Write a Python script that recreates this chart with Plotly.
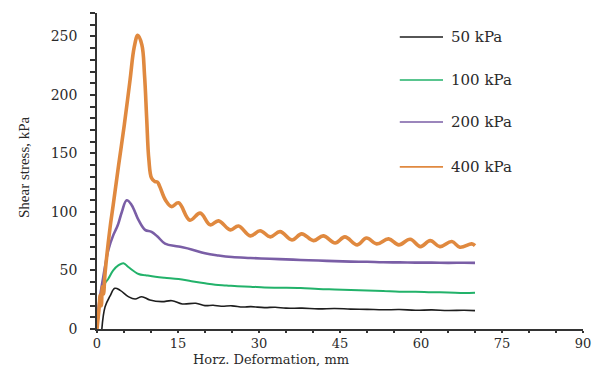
import plotly.graph_objects as go

# ---------------- data ----------------
legend_labels = ["50 kPa", "100 kPa", "200 kPa", "400 kPa"]

x_50 = [0.9, 1.5, 2.4, 3.3, 4.3, 5.8, 7.05, 8.3, 9.8, 12.0, 13.9, 15.8, 18.3, 20, 21.5, 23, 25, 27,
        28.5, 31, 33, 35, 38, 41, 44, 47, 50, 53, 56, 59, 62, 65, 68, 70]
y_50 = [0, 19, 28, 34.8, 33, 27.7, 25.6, 27.6, 24.8, 23.4, 24.2, 21.4, 22, 20, 20.3, 19.5, 19.8,
        18.8, 19.1, 18.3, 18.6, 17.8, 17.8, 17.2, 17.5, 17, 16.8, 16.4, 16.6, 16, 16.3, 15.8, 16, 15.7]

x_100 = [0, 0.5, 1.0, 1.5, 2.1, 3.0, 4.0, 4.9, 5.8, 7.7, 9.0, 10.8, 12.5, 15.1, 17.5, 20,
         21.9, 24, 26, 28.4, 31, 34, 37.7, 41, 44, 47, 50, 53, 56, 59, 62, 65, 68, 70]
y_100 = [0, 22, 33, 39, 43, 50, 54.5, 56.2, 53, 47, 46, 44.7, 43.8, 42.7, 40.8, 39,
         37.8, 37.2, 36.5, 36.2, 35.5, 35.3, 35, 34.2, 33.8, 33.4, 33, 32.5, 31.9, 31.8, 31.4,
         31.2, 30.8, 31]

x_200 = [0, 0.56, 1.17, 2.1, 3.0, 3.6, 3.95, 4.6, 5.5, 6.4, 7.7, 8.9, 10.1, 11.2, 12.6, 15.1,
         17.5, 20, 22.5, 25, 28.4, 32, 35, 37.7, 41, 44, 47, 50, 53, 56, 59, 62, 65, 68, 70]
y_200 = [8, 27.6, 44.7, 67.6, 80, 86, 90, 100, 110, 106, 93, 84.7, 83, 79, 73, 70.5,
         68, 64.7, 62.8, 61.5, 60.7, 60, 59.5, 59, 58.5, 58, 57.6, 57.4, 57, 56.9, 56.7, 56.7,
         56.5, 56.6, 56.5]

x_400 = [0, 0.35, 0.6, 0.8, 1.0, 1.2, 1.5, 2.4, 3.0, 4.0, 5.06, 6.1, 6.9, 7.55, 8.3,
         8.8, 9.2, 9.6, 10.1, 10.7, 11.2, 11.6, 12.7, 13.8, 15.1, 17.2, 19.1, 20.97, 22.5, 24.7,
         26.2, 28.4, 30.2, 32.1, 33.9, 36.1, 37.9, 40.1, 41.9, 44.1, 45.9, 48.2, 49.9, 51.8, 54,
         55.9, 58, 59.9, 61.7, 63.5, 65.7, 67.2, 69.4, 70]
y_400 = [0, 16, 29, 20, 36, 30, 48, 86, 106, 140, 174.5, 212, 241, 251, 243,
         217, 180, 145, 129, 126, 125.5, 122, 110, 104.6, 107.8, 93, 99, 89, 92.4, 84.7,
         88, 79.6, 84, 78.7, 83.2, 76.1, 81.3, 75.5, 79.6, 73.5, 78.7, 71.9, 77.8, 72.7, 77,
         71.9, 76.7, 70.4, 75.5, 70.4, 74.7, 69.9, 72.7, 71.3]

series_x = [x_50, x_100, x_200, x_400]
series_y = [y_50, y_100, y_200, y_400]

x_tick_vals = [0, 15, 30, 45, 60, 75, 90]
y_tick_vals = [0, 50, 100, 150, 200, 250]

# ---------------- style ----------------
colors = ["#1e1e1e", "#22b26a", "#7a5ea6", "#e0893f"]
widths = [1.6, 2.0, 2.6, 3.6]
serif = "DejaVu Serif"
text_color = "#2a2a2a"

fig = go.Figure()
for xs, ys, c, w, name in zip(series_x, series_y, colors, widths, legend_labels):
    fig.add_trace(go.Scatter(x=xs, y=ys, mode="lines", name=name,
                             line=dict(color=c, width=w, shape="spline", smoothing=1.1),
                             showlegend=False))

# custom legend (layout elements in paper coordinates)
legend_rows = [0.924, 0.788, 0.655, 0.513]
for name, c, yy in zip(legend_labels, colors, legend_rows):
    fig.add_shape(type="line", xref="paper", yref="paper", x0=0.623, x1=0.712, y0=yy, y1=yy,
                  line=dict(color=c, width=1.6))
    fig.add_annotation(xref="paper", yref="paper", x=0.724, y=yy, text=name, showarrow=False,
                       xanchor="left", yanchor="middle",
                       font=dict(family=serif, size=15, color=text_color))

# axis titles
fig.add_annotation(xref="paper", yref="paper", x=0.358, y=-0.1266, text="Horz. Deformation, mm",
                   showarrow=False, xanchor="center", yanchor="bottom",
                   font=dict(family=serif, size=13, color=text_color))
fig.add_annotation(xref="paper", yref="paper", x=-0.150, y=0.513, text="Shear stress, kPa",
                   showarrow=False, xanchor="center", yanchor="middle", textangle=-90,
                   font=dict(family="Liberation Serif", size=15, color=text_color))

fig.update_layout(
    width=595, height=369,
    margin=dict(l=97, r=12, t=13, b=40),
    plot_bgcolor="white", paper_bgcolor="white",
    font=dict(family=serif, size=13, color=text_color),
)
fig.update_xaxes(range=[0, 90], tickvals=x_tick_vals, showgrid=False, zeroline=False,
                 automargin=False,
                 showline=True, linecolor="#333", linewidth=1.5,
                 ticks="outside", ticklen=2, tickwidth=1.5, tickcolor="#333",
                 minor=dict(dtick=5, ticks="outside", ticklen=2, tickwidth=1.5, tickcolor="#333"),
                 tickfont=dict(family=serif, size=13, color=text_color))
fig.update_yaxes(range=[0, 270], tickvals=y_tick_vals, showgrid=False, zeroline=False,
                 automargin=False,
                 showline=True, linecolor="#333", linewidth=1.5,
                 ticks="outside", ticklen=5, tickwidth=1.5, tickcolor="#333",
                 minor=dict(dtick=10, ticks="outside", ticklen=5, tickwidth=1.5, tickcolor="#333"),
                 ticklabelstandoff=10,
                 tickfont=dict(family=serif, size=14, color=text_color))

fig.write_html("out.html")
